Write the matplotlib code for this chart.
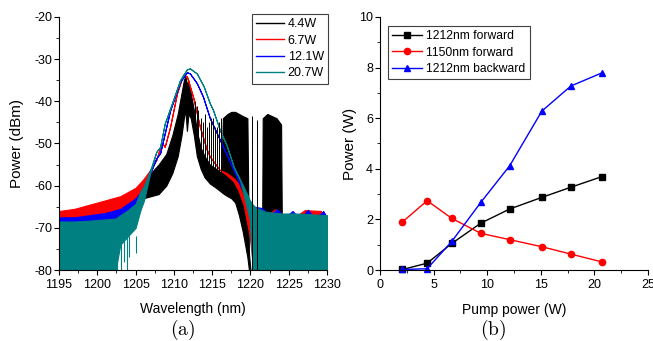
import matplotlib
matplotlib.use('Agg')
import matplotlib.pyplot as plt
from matplotlib.ticker import MultipleLocator

plt.rcParams['font.family'] = ['Liberation Sans', 'DejaVu Sans']
plt.rcParams['mathtext.fontset'] = 'cm'
plt.rcParams['axes.unicode_minus'] = False

# ---- (a) spectra, upper / lower envelope ----
wl_k = [1195, 1197, 1199, 1201, 1203, 1205, 1206, 1207, 1208, 1209, 1209.8, 1210.5, 1211.0,
        1211.3, 1211.5, 1211.7, 1211.9, 1212.2, 1212.6, 1213.0, 1213.5, 1214.0, 1214.7, 1215.5,
        1216.2, 1216.4, 1217.0, 1217.5, 1218.0, 1218.5, 1219.0, 1219.6, 1219.8, 1220.0, 1221.5,
        1221.6, 1222.2, 1222.8, 1223.4, 1224.0, 1224.1, 1230]
hi_k = [-66.5, -66, -65, -64, -63, -61, -59.5, -57, -55, -52.5, -48, -43, -38,
        -35, -34, -36, -35, -38, -42, -47, -51, -53, -55, -56,
        -57, -44, -43, -42.5, -42.5, -43, -43.5, -44, -76, -80, -80,
        -44, -43, -43.5, -44, -45.5, -69, -69]
lo_k = [-70, -69.5, -69, -68, -67, -64, -63, -62.5, -62, -60, -57, -53, -48,
        -44, -42, -47, -43, -44, -48, -53, -56, -58, -59.5, -60.5,
        -61.5, -61.8, -62.5, -63, -64, -67, -71, -77, -80, -80, -80,
        -80, -80, -80, -80, -80, -80, -80]
spike_wl = [1212.8, 1213.0, 1213.2, 1213.5, 1213.8, 1214.1, 1214.3, 1214.6, 1214.9,
            1215.1, 1215.4, 1215.6, 1215.9, 1216.1, 1220.2, 1220.9]
spike_top = [-40, -41, -42, -44, -45, -43, -46, -45, -44, -44, -46, -46, -45, -44, -43.5, -44.5]
spike_bot = [-50, -52, -53, -55, -56, -57, -57.5, -58, -58.5, -59, -59.5, -60, -60.5, -61, -80, -80]

wl_r = [1195, 1197, 1199, 1201, 1203, 1205, 1206, 1206.9, 1207.7, 1208.2, 1208.5, 1208.8,
        1209.5, 1210.4, 1211.2, 1211.7, 1212.5, 1213.4, 1214.3, 1214.7, 1216.0, 1216.9,
        1217.8, 1218.4, 1219.1, 1219.9, 1220.4, 1220.6, 1221.5, 1223.2, 1225.3, 1227.1, 1229.2, 1230]
hi_r = [-66, -65.5, -64.5, -63.5, -62.5, -60.5, -58.5, -56.3, -53.9, -51, -50, -50.8,
        -46.1, -38.1, -33.7, -34.1, -38.9, -46.1, -51.5, -53.1, -56.3, -57,
        -58.2, -59.5, -62.6, -68, -76, -80, -68, -65.6, -68, -65.8, -66, -68]
lo_r = [-69, -68.5, -68, -67.5, -66.5, -64, -60, -56.3, -53.9, -51, -50, -50.8,
        -46.1, -38.1, -33.7, -34.1, -38.9, -46.1, -51.5, -53.1, -56.3, -57.5,
        -59, -61, -64.5, -72, -80, -80, -72, -72, -72, -72, -72, -72]

wl_b = [1195, 1197, 1199, 1201, 1203, 1205, 1206, 1206.9, 1207.7, 1208.2, 1209.5, 1210.8,
        1211.7, 1212.1, 1213.0, 1213.8, 1214.7, 1216.0, 1217.8, 1219.1, 1219.9, 1220.5,
        1221.5, 1222.5, 1223.5, 1224.5, 1225.5, 1226.5, 1227.5, 1228.5, 1229.5, 1230]
hi_b = [-67.5, -67.5, -67, -66.5, -65.5, -63, -60.8, -57.1, -53.5, -52.3, -42.2, -35.4,
        -33.1, -33.4, -35.7, -38.9, -44, -49.1, -56.3, -61.4, -64.2, -65,
        -65.3, -67, -65.6, -67.5, -66, -68, -65.7, -68, -66, -67.5]
lo_b = [-80, -80, -80, -80, -72, -68, -63, -57.1, -53.5, -52.3, -42.2, -35.4,
        -33.1, -33.4, -35.7, -38.9, -44, -49.1, -56.3, -61.4, -66, -80,
        -80, -80, -80, -80, -80, -80, -80, -80, -80, -80]

wl_t = [1195, 1197, 1199, 1201, 1202.4, 1203, 1204, 1205, 1205.6, 1206.1, 1206.9, 1207.7,
        1208.2, 1208.8, 1209.9, 1210.8, 1211.7, 1212.1, 1213.0, 1213.9, 1214.7, 1215.1,
        1216.0, 1216.9, 1217.8, 1218.6, 1219.1, 1219.9, 1220.3, 1220.7, 1222, 1224, 1226,
        1228, 1230]
hi_t = [-68.5, -68.5, -68.3, -68, -67.8, -67, -65.8, -64.3, -61.5, -60, -56.3, -52,
        -50.8, -45.3, -39.7, -35, -32.4, -32.2, -33.4, -36.5, -40.5, -42,
        -46.8, -50.5, -55.5, -58.5, -60.2, -63.4, -64.5, -65.2, -66.2, -66.6, -66.6,
        -66.8, -67]
lo_t = [-80, -80, -80, -80, -80, -74, -72, -70, -66, -63.5, -57, -52,
        -50.8, -45.3, -39.7, -35, -32.4, -32.2, -33.4, -36.5, -40.5, -42,
        -46.8, -50.5, -55.5, -58.5, -62, -68, -80, -80, -80, -80, -80,
        -80, -80]
tspike_wl = [1202.6, 1203.1, 1203.5, 1203.9, 1204.2, 1205.0]
tspike_bot = [-80, -80, -78, -80, -77, -76]

spec_labels = ['4.4W', '6.7W', '12.1W', '20.7W']

# ---- (b) power vs pump ----
pump = [2.1, 4.4, 6.7, 9.4, 12.1, 15.1, 17.8, 20.7]
fwd_1212 = [0.02, 0.27, 1.05, 1.85, 2.41, 2.87, 3.27, 3.69]
fwd_1150 = [1.9, 2.74, 2.04, 1.45, 1.2, 0.92, 0.63, 0.32]
bwd_1212 = [0.02, 0.05, 1.13, 2.67, 4.12, 6.28, 7.27, 7.79]

teal = '#008080'
fig = plt.figure(figsize=(6.53, 3.41), dpi=100)
ax1 = fig.add_axes([0.0904, 0.2082, 0.4104, 0.742])
ax2 = fig.add_axes([0.5819, 0.2082, 0.4104, 0.742])

specs = [(wl_k, hi_k, lo_k, 'black'), (wl_r, hi_r, lo_r, 'red'),
         (wl_b, hi_b, lo_b, 'blue'), (wl_t, hi_t, lo_t, teal)]
for (wl, hi, lo, c), lab in zip(specs, spec_labels):
    ax1.fill_between(wl, lo, hi, facecolor=c, edgecolor=c, linewidth=0.8)
    ax1.plot([], [], color=c, lw=1, label=lab)
    if c == 'black':
        ax1.vlines(spike_wl, spike_bot, spike_top, color='black', lw=0.7)
    if c == teal:
        ax1.vlines(tspike_wl, tspike_bot, [-72] * len(tspike_wl), color=teal, lw=0.8)

ax1.set_xlim(1195, 1230)
ax1.set_ylim(-80, -20)
ax1.xaxis.set_major_locator(MultipleLocator(5))
ax1.xaxis.set_minor_locator(MultipleLocator(2.5))
ax1.yaxis.set_major_locator(MultipleLocator(10))
ax1.yaxis.set_minor_locator(MultipleLocator(5))
ax1.set_xlabel('Wavelength (nm)', fontsize=10)
ax1.set_ylabel('Power (dBm)', fontsize=11)
ax1.xaxis.set_label_coords(0.5, -0.154)
ax1.yaxis.set_label_coords(-0.157, 0.5)
ax1.xaxis.label.set_va('center')
ax1.yaxis.label.set_va('center')
leg1 = ax1.legend(loc='upper right', bbox_to_anchor=(1.004, 1.012), borderaxespad=0,
                  fontsize=9, handlelength=2.2, labelspacing=0.35, fancybox=False,
                  edgecolor='#404040', framealpha=1, borderpad=0.35, handletextpad=0.3)
leg1.get_frame().set_linewidth(0.8)

ax2.plot(pump, fwd_1212, 'k-s', lw=1, ms=4, label='1212nm forward', clip_on=False)
ax2.plot(pump, fwd_1150, '-o', color='red', lw=1, ms=4.5, label='1150nm forward', clip_on=False)
ax2.plot(pump, bwd_1212, '-^', color='blue', lw=1, ms=5, label='1212nm backward', clip_on=False)
ax2.set_xlim(0, 25)
ax2.set_ylim(0, 10)
ax2.xaxis.set_major_locator(MultipleLocator(5))
ax2.xaxis.set_minor_locator(MultipleLocator(2.5))
ax2.yaxis.set_major_locator(MultipleLocator(2))
ax2.yaxis.set_minor_locator(MultipleLocator(1))
ax2.set_xlabel('Pump power (W)', fontsize=10)
ax2.set_ylabel('Power (W)', fontsize=11)
ax2.xaxis.set_label_coords(0.5, -0.158)
ax2.yaxis.set_label_coords(-0.112, 0.5)
ax2.xaxis.label.set_va('center')
ax2.yaxis.label.set_va('center')
leg2 = ax2.legend(loc='upper left', bbox_to_anchor=(0.03, 0.964), borderaxespad=0,
                  fontsize=8.7, handlelength=2.5, labelspacing=0.35, fancybox=False,
                  edgecolor='#404040', framealpha=1, borderpad=0.35, handletextpad=0.3)
leg2.get_frame().set_linewidth(0.8)

for ax in (ax1, ax2):
    ax.spines['top'].set_visible(False)
    ax.spines['right'].set_visible(False)
    ax.tick_params(which='both', direction='out', labelsize=9)
    ax.tick_params(which='major', length=3.5)
    ax.tick_params(which='minor', length=2)
    ax.tick_params(axis='x', pad=3)
    ax.tick_params(axis='y', pad=1.5)

fig.text(0.280, 0.032, r'$\mathrm{(a)}$', fontsize=14, ha='center', va='center')
fig.text(0.755, 0.032, r'$\mathrm{(b)}$', fontsize=14, ha='center', va='center')

fig.savefig('out.png', dpi=100)
